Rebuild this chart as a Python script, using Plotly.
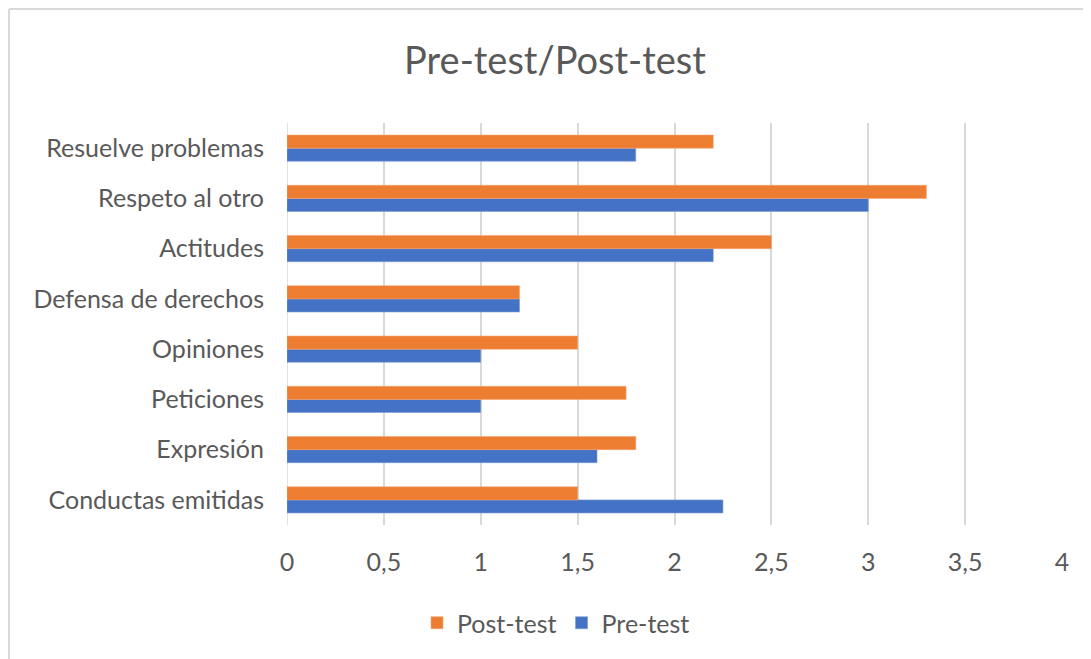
import plotly.graph_objects as go

categories = ["Conductas emitidas", "Expresión", "Peticiones", "Opiniones",
              "Defensa de derechos", "Actitudes", "Respeto al otro", "Resuelve problemas"]
pre_test = [2.25, 1.6, 1.0, 1.0, 1.2, 2.2, 3.0, 1.8]
post_test = [1.5, 1.8, 1.75, 1.5, 1.2, 2.5, 3.3, 2.2]
x_ticks = [0, 0.5, 1, 1.5, 2, 2.5, 3, 3.5, 4]

# page body has an 8px margin: figure pixel = screen pixel - 8
OFF = 8
W, H = 1091 - OFF, 659 - OFF
L, T = 287 - OFF, 123 - OFF
R = W - (1062 - OFF)
B = H - (525 - OFF)
pw, ph = W - L - R, H - T - B

def px_x(X):  # screen pixel -> paper
    return (X - OFF - L) / pw

def px_y(Y):
    return (H - B - (Y - OFF)) / ph

FONT = "Lato"
GREY = "#595959"

fig = go.Figure()
fig.add_trace(go.Bar(y=categories, x=pre_test, name="Pre-test", orientation="h",
                     marker=dict(color="#4472C4", line=dict(color="#7a9ad6", width=0.6))))
fig.add_trace(go.Bar(y=categories, x=post_test, name="Post-test", orientation="h",
                     marker=dict(color="#ED7D31", line=dict(color="#f3a26e", width=0.6))))

fig.update_layout(
    width=W, height=H,
    margin=dict(l=L, r=R, t=T, b=B, autoexpand=False),
    paper_bgcolor="white", plot_bgcolor="white",
    barmode="group", bargap=0.48, bargroupgap=0,
    separators=",.",
    font=dict(family=FONT, color=GREY, size=25),
    title=dict(text="Pre-test/Post-test", x=px_x(555), xref="paper", xanchor="center",
               y=1 - (61 - OFF) / H, yanchor="middle", font=dict(size=38, color=GREY, family=FONT)),
    legend=dict(orientation="h", traceorder="reversed", x=px_x(556), xanchor="center",
                y=px_y(623), yanchor="middle", font=dict(size=25, color=GREY),
                itemwidth=30),
    showlegend=True,
)
fig.update_xaxes(range=[0, 4], tickvals=x_ticks, showgrid=True, gridcolor="#d9d9d9",
                 gridwidth=1.5, zeroline=False, showline=False, ticks="",
                 ticklabelstandoff=20, tickfont=dict(size=25, color=GREY))
fig.update_yaxes(type="category", categoryorder="array", categoryarray=categories,
                 showgrid=False, zeroline=False, showline=False, ticks="",
                 ticklabelstandoff=22, tickfont=dict(size=25, color=GREY))

# axis line at x=0 drawn as gridline colour
fig.add_shape(type="line", xref="x", yref="paper", x0=0, x1=0, y0=0, y1=1,
              line=dict(color="#d9d9d9", width=1.5), layer="below")

# chart frame
fig.add_shape(type="line", xref="paper", yref="paper", x0=px_x(9), x1=px_x(1100),
              y0=px_y(9), y1=px_y(9), line=dict(color="#d9d9d9", width=2))
fig.add_shape(type="line", xref="paper", yref="paper", x0=px_x(9), x1=px_x(9),
              y0=px_y(9), y1=px_y(670), line=dict(color="#d9d9d9", width=2))

fig.write_html("out.html")
